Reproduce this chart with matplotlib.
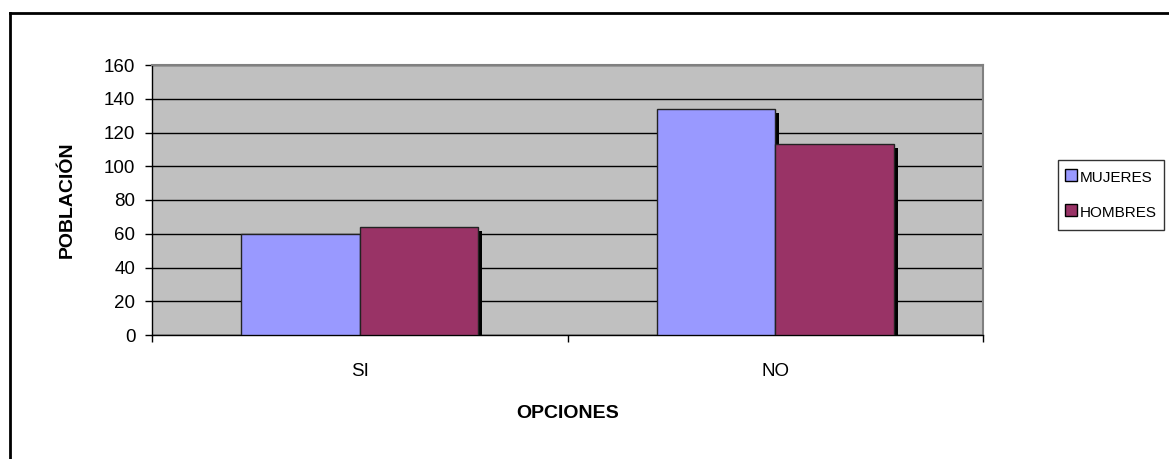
import matplotlib
matplotlib.use("Agg")
import matplotlib.pyplot as plt
import numpy as np
from matplotlib.transforms import ScaledTranslation
from matplotlib.lines import Line2D

categories = ["SI", "NO"]
mujeres = [60, 134]
hombres = [64, 113]
series_names = ["MUJERES", "HOMBRES"]
yticks = [0, 20, 40, 60, 80, 100, 120, 140, 160]

plt.rcParams['font.family'] = ['Liberation Sans', 'DejaVu Sans']

W, H = 1169, 459
fig = plt.figure(figsize=(W / 100, H / 100), dpi=100)
ax = fig.add_axes([152 / W, (H - 335) / H, (983 - 152) / W, (335 - 65) / H])
ax.set_facecolor("#C0C0C0")

x = np.arange(len(categories))
bw = 1 / 3.5
c1, c2 = "#9999FF", "#993366"

shadow = ax.transData + ScaledTranslation(4 / 100, -4 / 100, fig.dpi_scale_trans)
for vals, off in ((mujeres, -bw / 2), (hombres, bw / 2)):
    ax.bar(x + off, vals, bw, color="black", transform=shadow, zorder=2, linewidth=0)
ax.bar(x - bw / 2, mujeres, bw, color=c1, edgecolor="#222222", linewidth=1, zorder=3)
ax.bar(x + bw / 2, hombres, bw, color=c2, edgecolor="#222222", linewidth=1, zorder=3)

ax.set_xlim(-0.5, len(categories) - 0.5)
ax.set_ylim(0, 160)
ax.set_yticks(yticks)
ax.yaxis.grid(True, color="black", linewidth=1)
ax.set_axisbelow(True)

ax.set_xticks([-0.5, 0.5, 1.5])
ax.set_xticklabels([])
ax.set_xticks(x, minor=True)
ax.set_xticklabels(categories, minor=True, fontsize=13.5)
ax.tick_params(axis="x", which="major", direction="out", length=5, width=1, color="black")
ax.tick_params(axis="x", which="minor", length=0, pad=20)
ax.tick_params(axis="y", direction="out", length=5, width=1, pad=7, labelsize=13.5)

for s in ("top", "right"):
    ax.spines[s].set_color("#808080")
    ax.spines[s].set_linewidth(1.5)
for s in ("left", "bottom"):
    ax.spines[s].set_color("black")
    ax.spines[s].set_linewidth(1)

ax.set_xlabel("OPCIONES", fontsize=14, fontweight="bold", labelpad=18)
ax.set_ylabel("POBLACIÓN", fontsize=14, fontweight="bold", labelpad=20)

handles = [Line2D([], [], linestyle="none", marker="s", markersize=8,
                  markerfacecolor=c, markeredgecolor="black", markeredgewidth=1)
           for c in (c1, c2)]
leg = fig.legend(handles=handles, labels=series_names, loc="upper left",
                 bbox_to_anchor=(1058 / W, (H - 160) / H),
                 fontsize=11, frameon=True, fancybox=False, shadow=False,
                 handlelength=0.65, handleheight=1.6, handletextpad=0.25,
                 borderpad=0.5, labelspacing=1.0, borderaxespad=0)
leg.get_frame().set_edgecolor("black")
leg.get_frame().set_linewidth(1)

fig.add_artist(Line2D([10 / W, 10 / W], [0, (H - 13) / H], transform=fig.transFigure, color="black", linewidth=2))
fig.add_artist(Line2D([10 / W, 1], [(H - 13) / H, (H - 13) / H], transform=fig.transFigure, color="black", linewidth=2))

fig.savefig("out.png", dpi=100)
